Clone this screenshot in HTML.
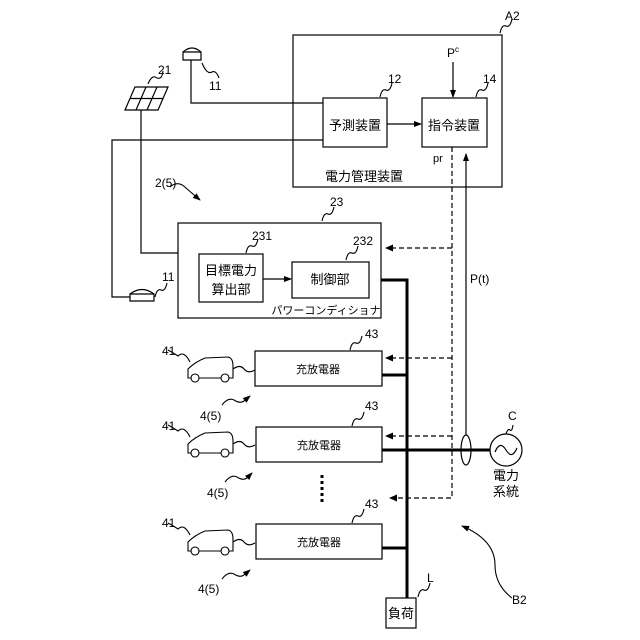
<!DOCTYPE html>
<html><head><meta charset="utf-8"><style>
html,body{margin:0;padding:0;background:#fff}
svg{display:block}
text{font-family:"Liberation Sans","Noto Sans CJK JP",sans-serif;fill:#000}
</style></head><body>
<svg width="640" height="640" viewBox="0 0 640 640" xmlns="http://www.w3.org/2000/svg">
<defs>
<marker id="ah" markerWidth="8" markerHeight="8" refX="7" refY="4" orient="auto" markerUnits="userSpaceOnUse">
<path d="M0,1 L8,4 L0,7 Z" fill="#000"/></marker>
</defs>
<g fill="none" stroke="#000" stroke-width="1.2">
<rect x="293" y="35" width="209" height="152"/>
<rect x="323" y="98" width="64" height="49"/>
<rect x="422" y="98" width="65" height="49"/>
<line x1="387" y1="124" x2="421" y2="124" marker-end="url(#ah)"/>
<line x1="453" y1="62" x2="453" y2="97" marker-end="url(#ah)"/>
<path d="M183,60 L183,52 Q192,44 201,52 L201,60 Z"/>
<line x1="183" y1="52" x2="201" y2="52"/>
<path d="M191,60 L191,103 L323,103"/>
<path d="M125,110 L135,87 L168,87 L158,110 Z"/>
<path d="M130,98.5 L163,98.5 M146,87 L136,110 M157,87 L147,110"/>
<path d="M141,110 L141,253 L178,253"/>
<path d="M323,140 L112,140 L112,297 L130,297"/>
<path d="M130,301 L130,294 Q142,285 154,294 L154,301 Z"/>
<line x1="130" y1="294" x2="154" y2="294"/>
<rect x="178" y="223" width="203" height="95"/>
<rect x="199" y="254" width="64" height="48"/>
<rect x="292" y="262" width="77" height="36"/>
<line x1="263" y1="279" x2="291" y2="279" marker-end="url(#ah)"/>
<rect x="255" y="351" width="127" height="35"/>
<rect x="256" y="427" width="126" height="35"/>
<rect x="256" y="524" width="126" height="35"/>
<rect x="386" y="598" width="30" height="30"/>
<line x1="466" y1="435" x2="466" y2="154" marker-end="url(#ah)"/>
<ellipse cx="466" cy="450" rx="5" ry="15"/>
<circle cx="506" cy="450" r="16"/>
<path d="M495,452 Q500,440 506,450 Q512,460 517,448"/>
</g>
<g fill="none" stroke="#000" stroke-width="3">
<path d="M381,280 L407,280 L407,598"/>
<line x1="382" y1="375" x2="407" y2="375"/>
<line x1="382" y1="450" x2="490" y2="450"/>
<line x1="382" y1="548" x2="407" y2="548"/>
</g>
<g fill="none" stroke="#000" stroke-width="1.2" stroke-dasharray="5,3">
<path d="M452,147 L452,498 L392,498"/>
<line x1="452" y1="248" x2="387" y2="248"/>
<line x1="452" y1="358" x2="387" y2="358"/>
<line x1="452" y1="436" x2="387" y2="436"/>
</g>
<g fill="#000">
<path d="M385,248 l8,-3.5 l0,7 Z"/>
<path d="M385,358 l8,-3.5 l0,7 Z"/>
<path d="M385,436 l8,-3.5 l0,7 Z"/>
<path d="M389,498 l8,-3.5 l0,7 Z"/>
</g>
<g stroke="#000" stroke-width="3" stroke-dasharray="3,3"><line x1="322" y1="475" x2="322" y2="505"/></g>
<g fill="none" stroke="#000" stroke-width="1.1">
<g id="car">
<path d="M188,378 L188,369 Q195,362 205,358 L228,357 Q233,358 233,366 L233,378 Z" fill="#fff"/>
<circle cx="195" cy="378" r="4" fill="#fff"/><circle cx="225" cy="378" r="4" fill="#fff"/>
<path d="M233,369 Q240,364 244,369 Q248,374 255,370"/>
<path d="M190,362 Q184,350 178,356 Q172,352 168,350"/>
</g>
<use href="#car" y="75"/>
<use href="#car" y="173"/>
<path d="M202,63 Q207,75 212,72 Q216,70 219,78"/>
<path d="M148,84 Q152,74 157,78 Q162,80 163,71"/>
<path d="M380,97 Q382,88 386,90 Q390,92 392,83"/>
<path d="M476,97 Q478,88 482,90 Q486,92 488,83"/>
<path d="M500,33 Q502,24 506,26 Q510,28 512,19"/>
<path d="M322,221 Q324,212 328,214 Q332,216 334,207"/>
<path d="M246,253 Q248,244 252,246 Q256,248 258,239"/>
<path d="M346,260 Q348,251 352,253 Q356,255 358,246"/>
<path d="M155,297 Q157,288 161,290 Q165,292 167,283"/>
<path d="M350,350 Q352,341 356,343 Q360,345 362,336"/>
<path d="M352,426 Q354,417 358,419 Q362,421 364,412"/>
<path d="M352,523 Q354,514 358,516 Q362,518 364,509"/>
<path d="M418,597 Q420,588 424,590 Q428,592 430,583"/>
<path d="M506,434 Q508,428 510,430 Q512,432 513,425"/>
<path d="M222,405 Q228,397 234,400 Q240,404 244,401 L250,396" marker-end="url(#ah)"/>
<path d="M225,482 Q231,474 237,477 Q243,481 247,478 L252,473" marker-end="url(#ah)"/>
<path d="M222,579 Q228,571 234,574 Q240,578 244,575 L250,570" marker-end="url(#ah)"/>
<path d="M170,187 Q178,180 186,188 Q194,195 200,200" marker-end="url(#ah)"/>
<path d="M512,598 Q495,585 495,565 Q495,540 462,526" marker-end="url(#ah)"/>
</g>
<g font-size="12">
<text x="209" y="90">11</text>
<text x="158" y="74">21</text>
<text x="388" y="83">12</text>
<text x="483" y="83">14</text>
<text x="505" y="20">A2</text>
<text x="447" y="57">P<tspan font-size="8" dy="-5">c</tspan></text>
<text x="433" y="162" font-size="11">pr</text>
<text x="155" y="187">2(5)</text>
<text x="330" y="206">23</text>
<text x="252" y="240">231</text>
<text x="353" y="245">232</text>
<text x="162" y="281">11</text>
<text x="470" y="283">P(t)</text>
<text x="162" y="355">41</text>
<text x="162" y="430">41</text>
<text x="162" y="527">41</text>
<text x="365" y="338">43</text>
<text x="365" y="410">43</text>
<text x="365" y="508">43</text>
<text x="200" y="420">4(5)</text>
<text x="207" y="497">4(5)</text>
<text x="198" y="593">4(5)</text>
<text x="508" y="420">C</text>
<text x="427" y="582">L</text>
<text x="512" y="604">B2</text>
</g>
<g font-size="13" text-anchor="middle">
<text x="355" y="130">予測装置</text>
<text x="454" y="130">指令装置</text>
<text x="364" y="181">電力管理装置</text>
<text x="231" y="275">目標電力</text>
<text x="231" y="294">算出部</text>
<text x="330" y="284">制御部</text>
<text x="401" y="618">負荷</text>
<text x="506" y="480">電力</text>
<text x="506" y="496">系統</text>
</g>
<g font-size="11" text-anchor="middle">
<text x="326" y="314">パワーコンディショナ</text>
<text x="318" y="373">充放電器</text>
<text x="319" y="449">充放電器</text>
<text x="319" y="546">充放電器</text>
</g>
</svg>
</body></html>
